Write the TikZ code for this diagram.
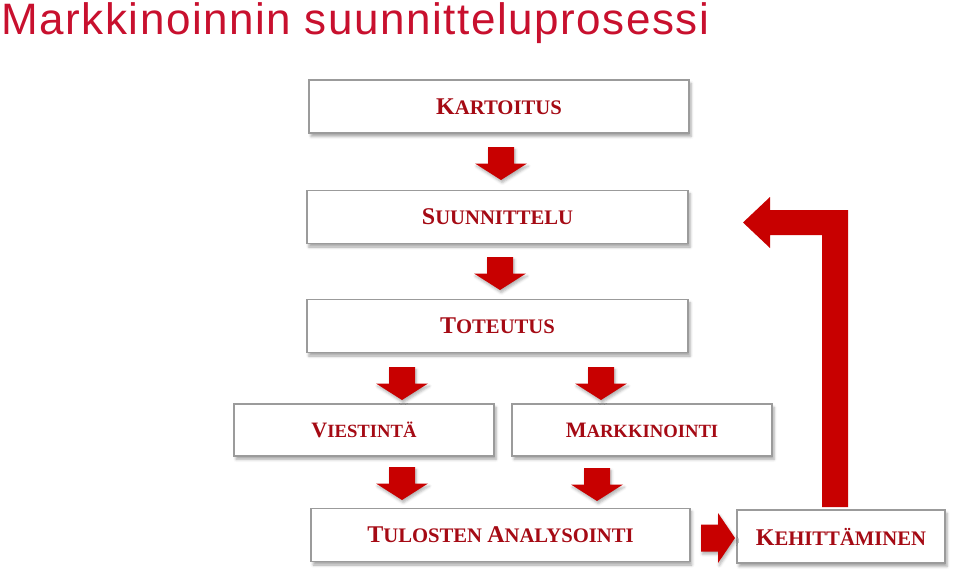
\documentclass[tikz,border=0pt]{standalone}
\usepackage{fontspec}
\setmainfont{Liberation Serif}
\newfontfamily\titlefont[LetterSpace=3.5]{Liberation Sans}
\usepackage{tikz}
\usetikzlibrary{shadows.blur,calc}
\definecolor{titlered}{RGB}{200,16,46}
\definecolor{textred}{RGB}{165,10,20}
\definecolor{arrowred}{RGB}{200,0,0}
\definecolor{boxgray}{RGB}{155,155,155}
\newcommand{\stagecap}[1]{{\fontsize{18}{18}\selectfont #1}}
\newcommand{\smallcap}[1]{{\fontsize{16.5}{18}\selectfont #1}}
\newcommand{\downblock}[1]{\fill[arrowred,shift={#1},blur shadow={shadow xshift=1pt,shadow yshift=-2pt,shadow opacity=30,shadow blur radius=2pt}]
  (-13,-16.5) -- (13,-16.5) -- (13,0) -- (26,0) -- (0,16.5) -- (-26,0) -- (-13,0) -- cycle;}
\newcommand{\rightblock}[1]{\fill[arrowred,shift={#1},blur shadow={shadow xshift=1pt,shadow yshift=-2pt,shadow opacity=30,shadow blur radius=2pt}]
  (-17,-13.5) -- (0,-13.5) -- (0,-25) -- (17,0) -- (0,25) -- (0,13.5) -- (-17,13.5) -- cycle;}

\begin{document}
\begin{tikzpicture}[x=0.75pt,y=-0.75pt,
    stage/.style={draw=boxgray,line width=1.2pt,fill=white,inner sep=0pt,
      minimum height=40pt,text=textred,font=\bfseries\fontsize{15.5}{18}\selectfont,
      blur shadow={shadow xshift=1.5pt,shadow yshift=-2.5pt,shadow opacity=35,shadow blur radius=2pt}},
    narrowstage/.style={stage,minimum width=195pt,minimum height=39pt,font=\bfseries\fontsize{14}{18}\selectfont}]
    \useasboundingbox (0,0) rectangle (960,578);
    \node[anchor=base west,text=titlered,font=\titlefont\fontsize{33}{38}\selectfont,inner sep=0pt] (title) at (1,34) {Markkinoinnin suunnitteluprosessi};
    % boxes
    \node[stage,minimum width=285pt] (kartoitus) at (499,106.5) {\stagecap{K}ARTOITUS};
    \node[stage,minimum width=286pt] (suunnittelu) at (497.5,217) {\stagecap{S}UUNNITTELU};
    \node[stage,minimum width=286pt] (toteutus) at (497.5,326) {\stagecap{T}OTEUTUS};
    \node[narrowstage] (viestinta) at (364,430) {\smallcap{V}IESTINTÄ};
    \node[narrowstage] (markkinointi) at (642,430) {\smallcap{M}ARKKINOINTI};
    \node[stage,minimum width=284pt] (tulosten) at (500.5,535) {\stagecap{T}ULOSTEN \stagecap{A}NALYSOINTI};
    \node[stage,minimum width=156pt] (kehittaminen) at (841,536.5) {\stagecap{K}EHITTÄMINEN};
    % arrows
    \downblock{(501,163.5)}
    \downblock{(500,273.5)}
    \downblock{(402,383.5)}
    \downblock{(601,383.5)}
    \downblock{(402,483.5)}
    \downblock{(597,484.5)}
    \rightblock{(718,538)}
    \fill[arrowred] (822,507) -- (848,507) -- (848,210) -- (770,210) -- (770,197)
      -- (743,222.5) -- (770,248) -- (770,235) -- (822,235) -- cycle;
\end{tikzpicture}
\end{document}
